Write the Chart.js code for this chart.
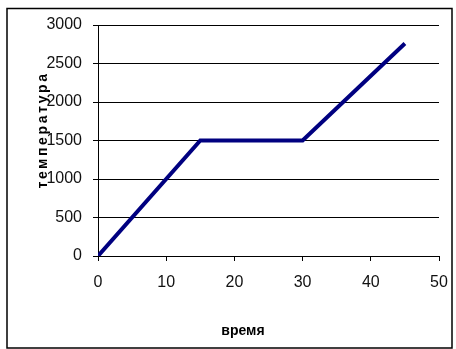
<!DOCTYPE html>
<html>
<head>
<meta charset="utf-8">
<script src="https://cdn.jsdelivr.net/npm/chart.js@4"></script>
<style>
  html, body { margin: 0; padding: 0; background: #fff; }
  #wrap { width: 456px; height: 349px; }
</style>
</head>
<body>
<div id="wrap"><canvas id="tempChart" width="456" height="349"></canvas></div>
<script>
// data
var times = [0, 15, 30, 45];
var temps = [0, 1500, 1500, 2760];
var xTicks = [0, 10, 20, 30, 40, 50];
var yTicks = [0, 500, 1000, 1500, 2000, 2500, 3000];
var xTitle = 'время';
var yTitle = 'температура';

var points = times.map(function (t, i) { return { x: t, y: temps[i] }; });

// white page, frame round the whole chart and the two axis titles
var frame = {
    id: 'frame',
    beforeDraw: function (chart) {
        var ctx = chart.ctx;
        ctx.save();
        ctx.fillStyle = '#fff';
        ctx.fillRect(0, 0, chart.width, chart.height);
        ctx.strokeStyle = '#000';
        ctx.lineWidth = 1.5;
        ctx.strokeRect(7, 8.5, 445, 339.5);
        ctx.restore();
    },
    afterDraw: function (chart) {
        var ctx = chart.ctx;
        ctx.save();
        ctx.fillStyle = '#000';
        ctx.font = 'bold 14px "Liberation Sans", Arial, sans-serif';
        ctx.textAlign = 'center';
        ctx.textBaseline = 'middle';
        ctx.fillText(xTitle, 243, 331);
        ctx.translate(43, 130);
        ctx.rotate(-Math.PI / 2);
        if ('letterSpacing' in ctx) ctx.letterSpacing = '2.6px';
        ctx.fillText(yTitle, 0, 0);
        ctx.restore();
    }
};

Chart.defaults.font.family = '"Liberation Sans", Arial, sans-serif';
Chart.defaults.color = '#111';

var plain = function (v) { return String(v); };

new Chart(document.getElementById('tempChart').getContext('2d'), {
    type: 'line',
    data: {
        datasets: [{
            data: points,
            borderColor: '#000080',
            borderWidth: 4,
            pointRadius: 0,
            tension: 0
        }]
    },
    options: {
        responsive: false,
        animation: false,
        layout: { padding: { left: 30, right: 17, top: 25, bottom: 8 } },
        plugins: { legend: { display: false }, tooltip: { enabled: false } },
        scales: {
            x: {
                type: 'linear',
                min: 0,
                max: 50,
                afterBuildTicks: function (scale) {
                    scale.ticks = xTicks.map(function (v) { return { value: v }; });
                },
                afterFit: function (scale) {
                    scale.height = 85;
                    scale.paddingLeft = 0;
                    scale.paddingRight = 0;
                },
                grid: { drawOnChartArea: false, color: '#000', tickLength: 5 },
                border: { color: '#000', width: 1 },
                ticks: { font: { size: 16 }, padding: 12, maxRotation: 0, callback: plain }
            },
            y: {
                min: 0,
                max: 3000,
                afterBuildTicks: function (scale) {
                    scale.ticks = yTicks.map(function (v) { return { value: v }; });
                },
                afterFit: function (scale) {
                    scale.width = 68;
                    scale.paddingTop = 0;
                    scale.paddingBottom = 0;
                },
                grid: { color: '#000', lineWidth: 1, tickLength: 5 },
                border: { color: '#000', width: 1 },
                ticks: { font: { size: 16 }, padding: 11, callback: plain }
            }
        }
    },
    plugins: [frame]
});
</script>
</body>
</html>
